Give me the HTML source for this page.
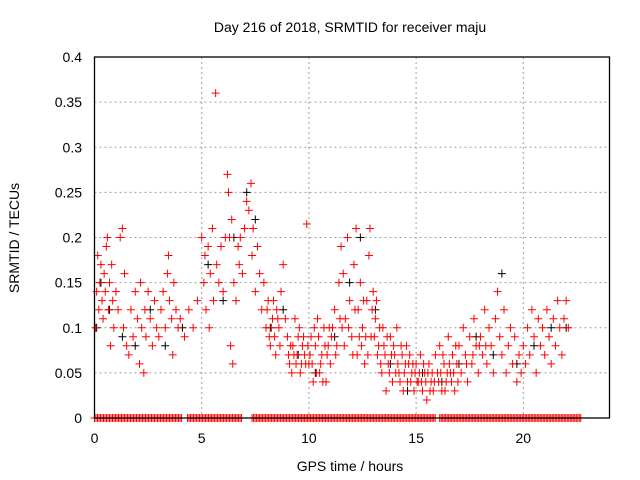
<!DOCTYPE html>
<html><head><meta charset="utf-8"><style>
body{margin:0;background:#fff;}
svg{display:block;font-family:"Liberation Sans",sans-serif;}
</style></head><body>
<svg id="chart" width="640" height="480">
<text x="350" y="32" text-anchor="middle" font-size="14">Day 216 of 2018, SRMTID for receiver maju</text>
<text x="350" y="471" text-anchor="middle" font-size="14">GPS time / hours</text>
<text transform="translate(19,238) rotate(-90)" text-anchor="middle" font-size="14">SRMTID / TECUs</text>
<g id="grid"></g><g id="ticks"></g><g id="marks"></g>
<rect x="94.5" y="57" width="515" height="361" fill="none" stroke="#000" stroke-width="1.3"/>
</svg>
<script>
const xTicks=[0,5,10,15,20];
const yTicks=[0,0.05,0.1,0.15,0.2,0.25,0.3,0.35,0.4];
const yTickLabels=["0","0.05","0.1","0.15","0.2","0.25","0.3","0.35","0.4"];
const redPts=[
[0.05,0.1],[0.1,0.14],[0.15,0.18],[0.2,0.12],[0.25,0.15],[0.3,0.17],[0.35,0.13],[0.4,0.11],[0.45,0.16],[0.5,0.14],[0.55,0.19],[0.6,0.2],[0.65,0.12],[0.7,0.15],[0.75,0.08],[0.8,0.17],[0.85,0.13],[0.9,0.1],[1.0,0.14],[1.1,0.12],[1.2,0.2],[1.3,0.21],[1.35,0.1],[1.4,0.16],[1.5,0.08],[1.6,0.07],[1.7,0.12],[1.8,0.09],[1.9,0.14],[2.0,0.11],[2.1,0.06],[2.15,0.15],[2.2,0.1],[2.3,0.05],[2.35,0.12],[2.4,0.09],[2.5,0.14],[2.6,0.11],[2.7,0.08],[2.8,0.13],[2.9,0.1],[3.0,0.09],[3.1,0.12],[3.2,0.14],[3.3,0.1],[3.4,0.16],[3.45,0.18],[3.5,0.13],[3.6,0.11],[3.65,0.07],[3.7,0.15],[3.8,0.12],[3.9,0.1],[4.0,0.11],[4.2,0.09],[4.4,0.12],[4.6,0.1],[4.8,0.13],[5.0,0.2],[5.1,0.15],[5.15,0.18],[5.2,0.12],[5.3,0.19],[5.35,0.1],[5.4,0.16],[5.5,0.21],[5.55,0.13],[5.65,0.36],[5.7,0.17],[5.8,0.15],[5.9,0.19],[6.0,0.14],[6.1,0.2],[6.2,0.27],[6.25,0.25],[6.3,0.2],[6.35,0.08],[6.4,0.22],[6.45,0.06],[6.5,0.15],[6.6,0.13],[6.7,0.19],[6.75,0.17],[6.8,0.2],[6.9,0.16],[7.0,0.21],[7.1,0.24],[7.2,0.23],[7.3,0.26],[7.35,0.18],[7.4,0.21],[7.5,0.14],[7.6,0.19],[7.7,0.16],[7.8,0.12],[7.9,0.15],[8.0,0.1],[8.1,0.13],[8.2,0.08],[8.3,0.11],[8.4,0.09],[8.5,0.12],[8.6,0.1],[8.7,0.14],[8.8,0.17],[8.9,0.11],[9.0,0.09],[9.1,0.06],[9.15,0.08],[9.2,0.05],[9.3,0.07],[9.35,0.11],[9.4,0.06],[9.5,0.09],[9.6,0.05],[9.7,0.08],[9.8,0.07],[9.9,0.215],[10.0,0.06],[10.1,0.09],[10.2,0.04],[10.3,0.08],[10.4,0.11],[10.5,0.05],[10.6,0.07],[10.7,0.1],[10.8,0.04],[10.9,0.08],[11.0,0.06],[11.1,0.1],[11.2,0.12],[11.3,0.08],[11.4,0.15],[11.5,0.19],[11.55,0.1],[11.6,0.16],[11.7,0.11],[11.8,0.2],[11.9,0.13],[12.0,0.09],[12.1,0.17],[12.2,0.21],[12.25,0.07],[12.3,0.12],[12.4,0.15],[12.5,0.1],[12.6,0.06],[12.7,0.13],[12.8,0.18],[12.85,0.21],[12.9,0.09],[13.0,0.14],[13.1,0.11],[13.2,0.07],[13.3,0.1],[13.4,0.05],[13.5,0.08],[13.6,0.03],[13.7,0.06],[13.8,0.09],[13.9,0.04],[14.0,0.07],[14.1,0.1],[14.2,0.05],[14.3,0.08],[14.4,0.03],[14.5,0.06],[14.6,0.04],[14.7,0.07],[14.8,0.05],[14.9,0.03],[15.0,0.06],[15.1,0.04],[15.2,0.07],[15.3,0.03],[15.4,0.05],[15.5,0.02],[15.6,0.06],[15.7,0.04],[15.8,0.03],[15.9,0.07],[16.0,0.05],[16.1,0.08],[16.2,0.03],[16.3,0.06],[16.4,0.04],[16.5,0.09],[16.6,0.05],[16.7,0.07],[16.8,0.03],[16.9,0.06],[17.0,0.08],[17.1,0.05],[17.2,0.1],[17.3,0.07],[17.4,0.04],[17.5,0.09],[17.6,0.06],[17.7,0.11],[17.8,0.08],[17.9,0.05],[18.0,0.09],[18.1,0.07],[18.2,0.12],[18.3,0.06],[18.4,0.1],[18.5,0.08],[18.6,0.05],[18.7,0.11],[18.8,0.14],[18.9,0.09],[19.0,0.07],[19.1,0.12],[19.2,0.05],[19.3,0.08],[19.4,0.1],[19.5,0.06],[19.6,0.09],[19.7,0.04],[19.8,0.07],[19.9,0.05],[20.0,0.08],[20.1,0.06],[20.2,0.1],[20.3,0.07],[20.4,0.12],[20.5,0.09],[20.6,0.05],[20.7,0.11],[20.8,0.08],[20.9,0.1],[21.0,0.07],[21.1,0.12],[21.2,0.09],[21.3,0.06],[21.4,0.11],[21.5,0.08],[21.6,0.13],[21.7,0.1],[21.8,0.07],[21.9,0.11],[22.0,0.13],[22.1,0.1]
];
const redPts2=[
[8.05,0.12],[8.15,0.09],[8.25,0.1],[8.35,0.13],[8.45,0.07],[8.55,0.11],[8.65,0.08],[9.05,0.07],[9.25,0.08],[9.45,0.07],[9.55,0.1],[9.65,0.06],[9.75,0.09],[9.85,0.06],[9.95,0.08],[10.05,0.07],[10.15,0.06],[10.25,0.1],[10.35,0.05],[10.45,0.09],[10.55,0.06],[10.65,0.04],[10.75,0.08],[10.85,0.07],[10.95,0.1],[11.05,0.09],[11.25,0.07],[11.45,0.11],[11.65,0.08],[11.85,0.1],[12.05,0.07],[12.15,0.12],[12.35,0.09],[12.45,0.08],[12.55,0.13],[12.65,0.09],[12.75,0.07],[12.95,0.12],[13.05,0.09],[13.15,0.13],[13.25,0.08],[13.35,0.06],[13.45,0.1],[13.55,0.07],[13.65,0.09],[13.75,0.05],[13.85,0.07],[13.95,0.08],[14.05,0.05],[14.15,0.06],[14.25,0.04],[14.35,0.07],[14.45,0.05],[14.55,0.08],[14.65,0.06],[14.75,0.04],[14.85,0.06],[14.95,0.05],[15.05,0.04],[15.15,0.05],[15.25,0.04],[15.35,0.06],[15.45,0.04],[15.55,0.05],[15.65,0.03],[15.75,0.05],[15.85,0.04],[16.05,0.04],[16.15,0.05],[16.25,0.07],[16.35,0.03],[16.45,0.05],[16.55,0.06],[16.65,0.04],[16.75,0.05],[16.85,0.08],[16.95,0.04],[17.35,0.06],[17.65,0.07],[17.95,0.08],[18.25,0.08]
];
const blackPts=[
[0.1,0.1],[0.3,0.15],[0.7,0.12],[1.3,0.09],[1.9,0.08],[2.6,0.12],[3.3,0.08],[4.1,0.1],[5.3,0.17],[6.0,0.13],[6.5,0.2],[7.1,0.25],[7.5,0.22],[8.2,0.1],[8.8,0.12],[9.5,0.07],[10.3,0.05],[11.2,0.09],[11.9,0.15],[12.4,0.2],[13.1,0.12],[13.8,0.06],[14.6,0.03],[15.3,0.05],[16.2,0.04],[17.0,0.06],[17.8,0.09],[18.6,0.07],[19.0,0.16],[19.7,0.06],[20.5,0.08],[21.3,0.1],[22.0,0.1]
];
const zeroTimes=[];
for(let i=0;i<=22.7;i+=0.07){ if(!((i>6.9&&i<7.3)||(i>4.1&&i<4.3)||(i>15.9&&i<16.05))) zeroTimes.push(+i.toFixed(2)); }
const NS="http://www.w3.org/2000/svg";
const xS=t=>94.5+t*21.44;
const yS=v=>418-v*902.5;
function mk(tag,attrs,parent){const e=document.createElementNS(NS,tag);for(const k in attrs)e.setAttribute(k,attrs[k]);parent.appendChild(e);return e;}
const grid=document.getElementById('grid'),ticks=document.getElementById('ticks'),marks=document.getElementById('marks');
xTicks.forEach(t=>{const x=xS(t);
 if(t>0){const g=mk('line',{x1:x,y1:57,x2:x,y2:418,stroke:'#a0a0a0','stroke-dasharray':'2,3'},grid);
 
 }
 const l=mk('text',{x:x,y:443,'text-anchor':'middle','font-size':14},ticks);l.textContent=t;
 
 });
yTicks.forEach((v,i)=>{const y=yS(v);
 if(v>0){const g=mk('line',{x1:94.5,y1:y,x2:609.5,y2:y,stroke:'#a0a0a0','stroke-dasharray':'2,3'},grid);
 
 }
 const l=mk('text',{x:82,y:y+5,'text-anchor':'end','font-size':14},ticks);l.textContent=yTickLabels[i];
 
 });
function plus(t,v,c,name){const x=xS(t),y=yS(v);
 const p=mk('path',{d:`M${x-4},${y}H${x+4}M${x},${y-4}V${y+4}`,stroke:c,'stroke-width':1},marks);
 
 }
blackPts.forEach(p=>plus(p[0],p[1],'#000','black-point'));
redPts.forEach(p=>plus(p[0],p[1],'#f00','red-point'));
redPts2.forEach(p=>plus(p[0],p[1],'#f00','red-point'));
zeroTimes.forEach(t=>plus(t,0,'#f00','zero-point'));
</script>
</body></html>
